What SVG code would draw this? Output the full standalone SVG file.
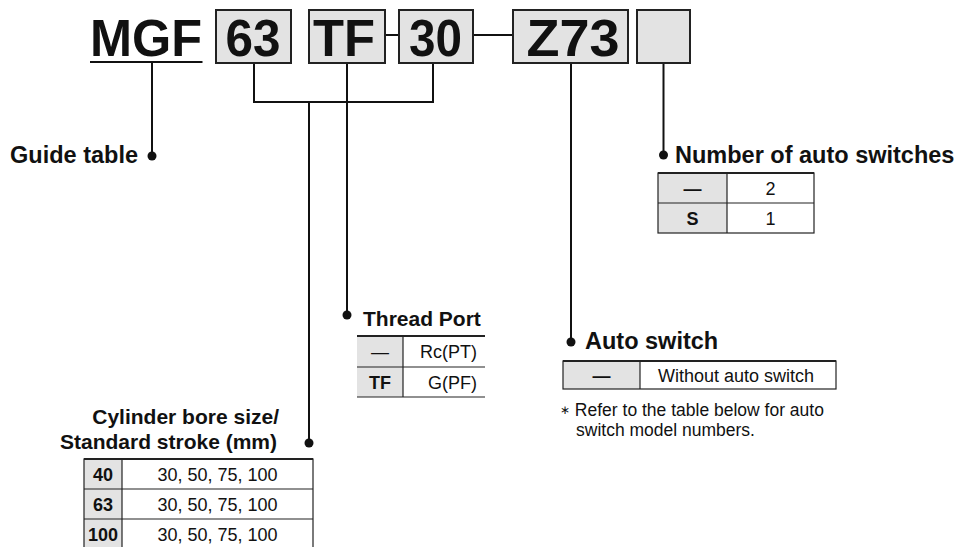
<svg xmlns="http://www.w3.org/2000/svg" width="961" height="547" viewBox="0 0 961 547">
<style>
text{font-family:"Liberation Sans",Arial,sans-serif;fill:#111}
.big{font-size:52px;font-weight:bold}
.lbl{font-size:23.5px;font-weight:bold}
.lbl2{font-size:21px;font-weight:bold}
.td{font-size:18px}
.tb{font-size:18px;font-weight:bold}
.note{font-size:17.5px}
.box{fill:#e3e3e3;stroke:#222;stroke-width:2}
.ln{stroke:#111;stroke-width:2;fill:none}
.gray{fill:#e3e3e3}
.tl{stroke:#222;stroke-width:1.2;fill:none}
.dot{fill:#111}
</style>
<rect width="961" height="547" fill="#fff"/>
<g id="connectors">
<line class="ln" x1="90" y1="62" x2="202.5" y2="62"/>
<path class="ln" d="M152 62V156"/>
<path class="ln" d="M254 63V102H433V63"/>
<path class="ln" d="M309 102V443"/>
<path class="ln" d="M347 63V315"/>
<path class="ln" d="M385 35H399"/>
<path class="ln" d="M473 35H513"/>
<path class="ln" d="M571 63V342"/>
<path class="ln" d="M663.5 63V155"/>
<circle class="dot" cx="152" cy="156" r="4.5"/>
<circle class="dot" cx="309" cy="443" r="4.5"/>
<circle class="dot" cx="347" cy="315" r="4.5"/>
<circle class="dot" cx="571" cy="342" r="4.5"/>
<circle class="dot" cx="663.5" cy="155" r="4.5"/>
</g>
<g id="code">
<text class="big" x="90" y="56" textLength="112" lengthAdjust="spacingAndGlyphs">MGF</text>
</g>
<g id="box-63">
<rect class="box" x="216" y="10" width="75" height="53"/>
<text class="big" x="253" y="56" text-anchor="middle" textLength="55" lengthAdjust="spacingAndGlyphs">63</text>
</g>
<g id="box-TF">
<rect class="box" x="309" y="10" width="76" height="53"/>
<text class="big" x="344" y="56" text-anchor="middle" textLength="62" lengthAdjust="spacingAndGlyphs">TF</text>
</g>
<g id="box-30">
<rect class="box" x="399" y="10" width="74" height="53"/>
<text class="big" x="435.5" y="56" text-anchor="middle" textLength="53" lengthAdjust="spacingAndGlyphs">30</text>
</g>
<g id="box-Z73">
<rect class="box" x="513" y="10" width="115" height="53"/>
<text class="big" x="573" y="56" text-anchor="middle" textLength="93" lengthAdjust="spacingAndGlyphs">Z73</text>
</g>
<g id="box-empty">
<rect class="box" x="637" y="10" width="53" height="53"/>
</g>
<g id="guide-table">
<text class="lbl" x="138" y="163" text-anchor="end">Guide table</text>
</g>
<g id="num-switches">
<text class="lbl" x="675" y="163">Number of auto switches</text>
<rect class="gray" x="658" y="173" width="69" height="60"/>
<rect class="tl" x="658" y="173" width="156" height="60"/>
<line class="tl" x1="658" y1="203" x2="814" y2="203"/>
<line class="tl" x1="727" y1="173" x2="727" y2="233"/>
<line x1="658" y1="173" x2="814" y2="173" stroke="#222" stroke-width="2"/>
<text class="tb" x="692.5" y="194.5" text-anchor="middle">—</text>
<text class="td" x="770.5" y="194.5" text-anchor="middle">2</text>
<text class="tb" x="692.5" y="224.5" text-anchor="middle">S</text>
<text class="td" x="770.5" y="224.5" text-anchor="middle">1</text>
</g>
<g id="thread-port">
<text class="lbl2" x="363" y="326">Thread Port</text>
<rect class="gray" x="357" y="336" width="46" height="61"/>
<line x1="357" y1="336" x2="485" y2="336" stroke="#222" stroke-width="2"/>
<line class="tl" x1="357" y1="367" x2="485" y2="367"/>
<line class="tl" x1="357" y1="397" x2="485" y2="397"/>
<line class="tl" x1="403" y1="336" x2="403" y2="397"/>
<text class="td" x="380" y="358" text-anchor="middle">—</text>
<text class="td" x="477" y="358" text-anchor="end">Rc(PT)</text>
<text class="tb" x="380" y="388.5" text-anchor="middle">TF</text>
<text class="td" x="477" y="388.5" text-anchor="end">G(PF)</text>
</g>
<g id="auto-switch">
<text class="lbl" x="585" y="349">Auto switch</text>
<rect class="gray" x="563" y="361" width="77" height="28"/>
<rect class="tl" x="563" y="361" width="273" height="28"/>
<line x1="563" y1="361" x2="836" y2="361" stroke="#222" stroke-width="2"/>
<line class="tl" x1="640" y1="361" x2="640" y2="389"/>
<text class="tb" x="601.5" y="381.5" text-anchor="middle">—</text>
<text class="td" x="736" y="381.5" text-anchor="middle">Without auto switch</text>
<text class="note" x="560" y="416"><tspan font-size="12" dy="-2">∗</tspan><tspan dy="2"> Refer to the table below for auto</tspan></text>
<text class="note" x="576" y="436">switch model numbers.</text>
</g>
<g id="bore-stroke">
<text class="lbl2" x="279" y="424" text-anchor="end">Cylinder bore size/</text>
<text class="lbl2" x="277" y="449" text-anchor="end">Standard stroke (mm)</text>
<rect class="gray" x="84" y="459" width="38" height="92"/>
<rect class="tl" x="84" y="459" width="229" height="92"/>
<line x1="84" y1="459" x2="313" y2="459" stroke="#222" stroke-width="2"/>
<line class="tl" x1="84" y1="489" x2="313" y2="489"/>
<line class="tl" x1="84" y1="519" x2="313" y2="519"/>
<line class="tl" x1="122" y1="459" x2="122" y2="551"/>
<text class="tb" x="103" y="480.5" text-anchor="middle">40</text>
<text class="td" x="217.5" y="480.5" text-anchor="middle">30, 50, 75, 100</text>
<text class="tb" x="103" y="510.5" text-anchor="middle">63</text>
<text class="td" x="217.5" y="510.5" text-anchor="middle">30, 50, 75, 100</text>
<text class="tb" x="103" y="540.5" text-anchor="middle">100</text>
<text class="td" x="217.5" y="540.5" text-anchor="middle">30, 50, 75, 100</text>
</g>
</svg>
